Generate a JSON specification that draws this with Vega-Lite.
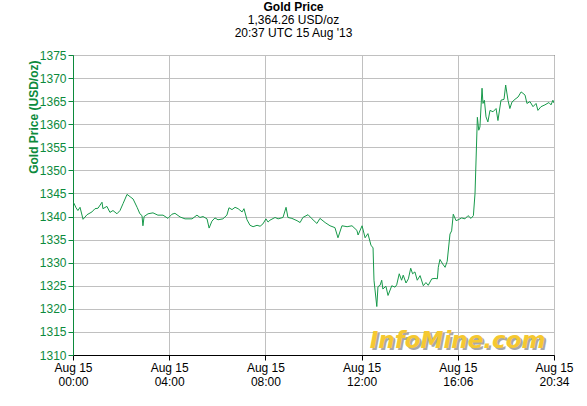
{
  "$schema": "https://vega.github.io/schema/vega-lite/v6.json",
  "width": 481,
  "height": 300,
  "autosize": {"type": "none"},
  "padding": {"left": 73, "top": 55, "right": 33, "bottom": 51},
  "background": "white",
  "config": {
    "font": "Liberation Sans",
    "view": {"stroke": "black", "strokeWidth": 1},
    "axis": {"labelFont": "Liberation Sans", "titleFont": "Liberation Sans"}
  },
  "title": {
    "text": "Gold Price",
    "subtitle": ["1,364.26 USD/oz", "20:37 UTC 15 Aug '13"],
    "anchor": "middle",
    "dx": -20,
    "offset": 9,
    "font": "Liberation Sans",
    "fontSize": 12,
    "fontWeight": "bold",
    "color": "black",
    "subtitleFont": "Liberation Sans",
    "subtitleFontSize": 12,
    "subtitleColor": "black",
    "subtitlePadding": 1,
    "subtitleLineHeight": 13
  },
  "encoding": {
    "x": {
      "field": "t", "type": "quantitative",
      "scale": {"domain": [0, 20.567], "nice": false, "zero": false},
      "axis": {
        "title": null,
        "values": [0, 4.1134, 8.2268, 12.3402, 16.4536, 20.567],
        "labelExpr": "datum.value < 1 ? ['Aug 15', '00:00'] : datum.value < 5 ? ['Aug 15', '04:00'] : datum.value < 9 ? ['Aug 15', '08:00'] : datum.value < 13 ? ['Aug 15', '12:00'] : datum.value < 17 ? ['Aug 15', '16:06'] : ['Aug 15', '20:34']",
        "labelFontSize": 12,
        "labelColor": "black",
        "labelLineHeight": 14,
        "labelPadding": 2,
        "labelFlush": false,
        "labelOverlap": false,
        "tickSize": 5,
        "tickColor": "black",
        "domainColor": "black",
        "gridColor": "#c0c0c0",
        "gridWidth": 1,
        "grid": true
      }
    },
    "y": {
      "field": "p", "type": "quantitative",
      "scale": {"domain": [1310, 1375], "nice": false, "zero": false},
      "axis": {
        "title": "Gold Price (USD/oz)",
        "values": [1310, 1315, 1320, 1325, 1330, 1335, 1340, 1345, 1350, 1355, 1360, 1365, 1370, 1375],
        "format": "d",
        "labelFontSize": 12,
        "labelColor": "#0c8a3c",
        "labelPadding": 2,
        "labelFlush": false,
        "labelOverlap": false,
        "labelBound": false,
        "tickSize": 5,
        "tickColor": "#0c8a3c",
        "domainColor": "#0c8a3c",
        "domainWidth": 1,
        "gridColor": "#c0c0c0",
        "gridWidth": 1,
        "grid": true,
        "titleColor": "#0c8a3c",
        "titleFontSize": 12,
        "titleFontWeight": "bold",
        "titleAngle": -90,
        "titleAlign": "right",
        "titleBaseline": "middle",
        "titleX": -40,
        "titleY": 5
      }
    }
  },
  "layer": [
    {
      "data": {
        "values": [
          {"t": 0.00, "p": 1343.0}, {"t": 0.04, "p": 1342.9}, {"t": 0.13, "p": 1341.9}, {"t": 0.21, "p": 1341.3},
          {"t": 0.30, "p": 1342.0}, {"t": 0.43, "p": 1339.4}, {"t": 0.60, "p": 1340.4}, {"t": 0.81, "p": 1341.0},
          {"t": 0.94, "p": 1341.7}, {"t": 1.07, "p": 1341.8}, {"t": 1.24, "p": 1343.1}, {"t": 1.28, "p": 1341.7},
          {"t": 1.45, "p": 1342.2}, {"t": 1.58, "p": 1340.9}, {"t": 1.71, "p": 1341.3}, {"t": 1.88, "p": 1340.6},
          {"t": 2.01, "p": 1341.3}, {"t": 2.14, "p": 1342.8}, {"t": 2.31, "p": 1344.8}, {"t": 2.44, "p": 1344.3},
          {"t": 2.57, "p": 1343.8}, {"t": 2.74, "p": 1342.0}, {"t": 2.86, "p": 1340.6}, {"t": 2.95, "p": 1340.2},
          {"t": 2.99, "p": 1338.0}, {"t": 3.04, "p": 1340.0}, {"t": 3.21, "p": 1340.6}, {"t": 3.42, "p": 1340.8},
          {"t": 3.63, "p": 1340.3}, {"t": 3.85, "p": 1340.3}, {"t": 4.06, "p": 1339.6}, {"t": 4.23, "p": 1340.5},
          {"t": 4.36, "p": 1340.7}, {"t": 4.58, "p": 1339.9}, {"t": 4.79, "p": 1339.5}, {"t": 5.09, "p": 1339.5},
          {"t": 5.30, "p": 1340.3}, {"t": 5.43, "p": 1339.8}, {"t": 5.56, "p": 1340.0}, {"t": 5.73, "p": 1339.5},
          {"t": 5.82, "p": 1337.5}, {"t": 5.94, "p": 1339.0}, {"t": 6.07, "p": 1339.7}, {"t": 6.20, "p": 1339.3},
          {"t": 6.41, "p": 1339.5}, {"t": 6.58, "p": 1340.3}, {"t": 6.67, "p": 1341.9}, {"t": 6.80, "p": 1341.5},
          {"t": 6.93, "p": 1342.0}, {"t": 7.06, "p": 1341.7}, {"t": 7.23, "p": 1341.0}, {"t": 7.31, "p": 1341.7},
          {"t": 7.44, "p": 1339.3}, {"t": 7.57, "p": 1338.1}, {"t": 7.70, "p": 1337.8}, {"t": 7.87, "p": 1338.1},
          {"t": 8.00, "p": 1337.9}, {"t": 8.12, "p": 1338.4}, {"t": 8.25, "p": 1339.5}, {"t": 8.34, "p": 1338.8},
          {"t": 8.42, "p": 1339.2}, {"t": 8.64, "p": 1339.8}, {"t": 8.77, "p": 1339.5}, {"t": 8.98, "p": 1339.8},
          {"t": 9.11, "p": 1342.0}, {"t": 9.19, "p": 1339.8}, {"t": 9.36, "p": 1339.6}, {"t": 9.58, "p": 1339.1},
          {"t": 9.71, "p": 1338.7}, {"t": 9.83, "p": 1339.8}, {"t": 10.05, "p": 1340.4}, {"t": 10.22, "p": 1339.5},
          {"t": 10.43, "p": 1338.5}, {"t": 10.56, "p": 1339.6}, {"t": 10.78, "p": 1338.7}, {"t": 10.99, "p": 1338.0},
          {"t": 11.20, "p": 1337.6}, {"t": 11.33, "p": 1335.4}, {"t": 11.50, "p": 1338.0}, {"t": 11.72, "p": 1337.8},
          {"t": 11.93, "p": 1338.0}, {"t": 12.14, "p": 1337.0}, {"t": 12.19, "p": 1336.0}, {"t": 12.36, "p": 1338.0},
          {"t": 12.49, "p": 1335.4}, {"t": 12.61, "p": 1336.3}, {"t": 12.74, "p": 1333.8}, {"t": 12.83, "p": 1333.2},
          {"t": 12.87, "p": 1326.2}, {"t": 12.99, "p": 1320.5}, {"t": 13.04, "p": 1324.8}, {"t": 13.13, "p": 1325.1},
          {"t": 13.20, "p": 1326.2}, {"t": 13.25, "p": 1324.3}, {"t": 13.38, "p": 1324.9}, {"t": 13.47, "p": 1322.9},
          {"t": 13.63, "p": 1325.0}, {"t": 13.77, "p": 1324.7}, {"t": 13.84, "p": 1325.2}, {"t": 13.95, "p": 1327.6},
          {"t": 14.05, "p": 1326.2}, {"t": 14.12, "p": 1327.3}, {"t": 14.24, "p": 1325.6}, {"t": 14.34, "p": 1326.5},
          {"t": 14.44, "p": 1328.8}, {"t": 14.52, "p": 1327.6}, {"t": 14.62, "p": 1328.0}, {"t": 14.72, "p": 1326.2},
          {"t": 14.84, "p": 1327.2}, {"t": 14.98, "p": 1325.0}, {"t": 15.09, "p": 1325.7}, {"t": 15.19, "p": 1325.1},
          {"t": 15.34, "p": 1326.5}, {"t": 15.48, "p": 1326.6}, {"t": 15.58, "p": 1326.5}, {"t": 15.62, "p": 1329.0},
          {"t": 15.69, "p": 1330.7}, {"t": 15.81, "p": 1329.7}, {"t": 15.91, "p": 1329.0}, {"t": 16.00, "p": 1330.3},
          {"t": 16.12, "p": 1336.2}, {"t": 16.19, "p": 1336.9}, {"t": 16.26, "p": 1340.5}, {"t": 16.38, "p": 1339.1},
          {"t": 16.47, "p": 1339.3}, {"t": 16.62, "p": 1339.7}, {"t": 16.76, "p": 1339.5}, {"t": 16.89, "p": 1340.2},
          {"t": 17.02, "p": 1339.6}, {"t": 17.12, "p": 1340.2}, {"t": 17.19, "p": 1345.0}, {"t": 17.29, "p": 1361.5},
          {"t": 17.35, "p": 1358.7}, {"t": 17.40, "p": 1359.4}, {"t": 17.49, "p": 1367.8}, {"t": 17.53, "p": 1364.5},
          {"t": 17.59, "p": 1365.2}, {"t": 17.66, "p": 1361.6}, {"t": 17.74, "p": 1360.5}, {"t": 17.83, "p": 1363.0},
          {"t": 17.96, "p": 1362.7}, {"t": 18.09, "p": 1363.4}, {"t": 18.17, "p": 1360.8}, {"t": 18.30, "p": 1365.2},
          {"t": 18.43, "p": 1365.4}, {"t": 18.50, "p": 1368.5}, {"t": 18.60, "p": 1365.2}, {"t": 18.68, "p": 1363.4},
          {"t": 18.77, "p": 1364.8}, {"t": 18.90, "p": 1365.4}, {"t": 19.03, "p": 1365.9}, {"t": 19.16, "p": 1367.0},
          {"t": 19.24, "p": 1366.7}, {"t": 19.33, "p": 1366.3}, {"t": 19.41, "p": 1364.5}, {"t": 19.54, "p": 1364.9},
          {"t": 19.67, "p": 1363.8}, {"t": 19.80, "p": 1364.5}, {"t": 19.88, "p": 1363.0}, {"t": 20.01, "p": 1363.8},
          {"t": 20.18, "p": 1364.2}, {"t": 20.35, "p": 1364.7}, {"t": 20.44, "p": 1364.2}, {"t": 20.52, "p": 1365.2},
          {"t": 20.567, "p": 1364.6}
        ]
      },
      "mark": {"type": "line", "color": "#17994a", "strokeWidth": 1, "clip": true}
    },
    {
      "data": {"values": [{"label": "InfoMine.com", "t": 20.2, "p": 1311.6}]},
      "mark": {"type": "text", "font": "DejaVu Sans", "fontSize": 23, "fontWeight": "bold", "fontStyle": "italic", "align": "right", "baseline": "alphabetic", "color": "#a8a8a8", "dx": 2, "dy": 2},
      "encoding": {"text": {"field": "label"}}
    },
    {
      "data": {"values": [{"label": "InfoMine.com", "t": 20.2, "p": 1311.6}]},
      "mark": {"type": "text", "font": "DejaVu Sans", "fontSize": 23, "fontWeight": "bold", "fontStyle": "italic", "align": "right", "baseline": "alphabetic", "color": "#f5c831"},
      "encoding": {"text": {"field": "label"}}
    }
  ]
}
